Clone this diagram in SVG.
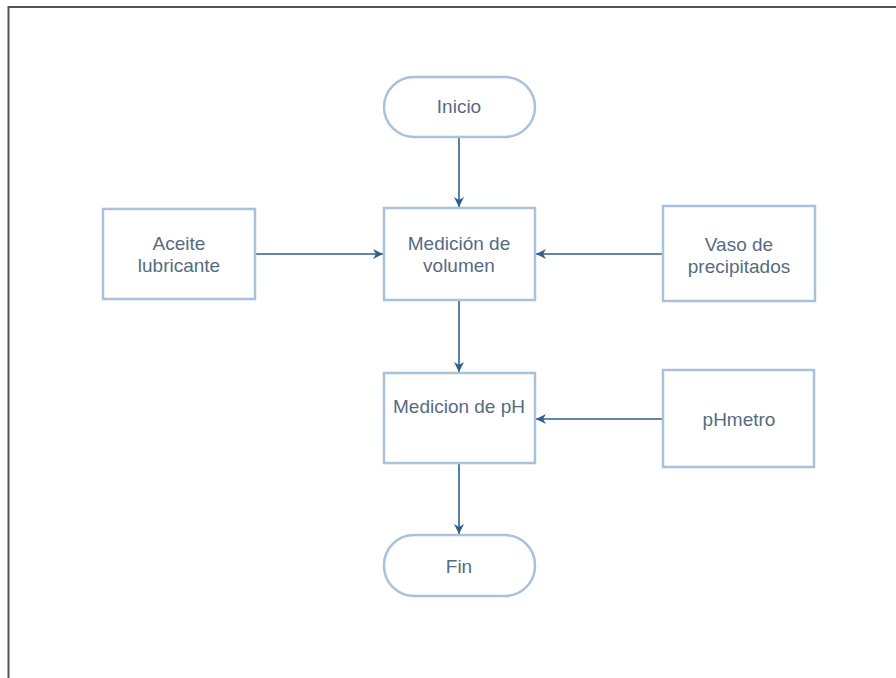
<svg xmlns="http://www.w3.org/2000/svg" width="896" height="678" viewBox="0 0 896 678">
<style>
.node{fill:#ffffff;stroke:#a9c1db;stroke-width:2.5}
.lbl{font-family:"Liberation Sans",Arial,sans-serif;font-size:19px;fill:#566b82;text-anchor:middle}
.edge{stroke:#2f5f8c;stroke-width:1.6;fill:none;marker-end:url(#arr)}
</style>
<defs>
<marker id="arr" viewBox="0 0 10 10" refX="10" refY="5" markerWidth="10" markerHeight="10" markerUnits="userSpaceOnUse" orient="auto">
<path d="M0,0 L10,5 L0,10 L3,5 z" fill="#2f5f8c"/>
</marker>
</defs>
<rect x="0" y="0" width="896" height="678" fill="#ffffff"/>
<path d="M8.5,678 V7 H896" fill="none" stroke="#555555" stroke-width="2"/>
<g id="connectors">
<line class="edge" x1="459" y1="137" x2="459" y2="207"/>
<line class="edge" x1="255" y1="254" x2="383" y2="254"/>
<line class="edge" x1="663" y1="254" x2="536" y2="254"/>
<line class="edge" x1="459" y1="300" x2="459" y2="372"/>
<line class="edge" x1="663" y1="419" x2="536" y2="419"/>
<line class="edge" x1="459" y1="463" x2="459" y2="534"/>
</g>
<g id="inicio">
<rect class="node" x="384" y="77" width="151" height="60" rx="30" ry="30"/>
<text class="lbl" x="459" y="113">Inicio</text>
</g>
<g id="medicion-volumen">
<rect class="node" x="384" y="208" width="151" height="92"/>
<text class="lbl" x="459" y="250">Medición de</text>
<text class="lbl" x="459" y="272">volumen</text>
</g>
<g id="aceite">
<rect class="node" x="103" y="209" width="152" height="90"/>
<text class="lbl" x="179" y="250">Aceite</text>
<text class="lbl" x="179" y="272">lubricante</text>
</g>
<g id="vaso">
<rect class="node" x="663" y="206" width="152" height="95"/>
<text class="lbl" x="739" y="251">Vaso de</text>
<text class="lbl" x="739" y="273">precipitados</text>
</g>
<g id="medicion-ph">
<rect class="node" x="384" y="373" width="151" height="90"/>
<text class="lbl" x="459" y="413">Medicion de pH</text>
</g>
<g id="phmetro">
<rect class="node" x="663" y="370" width="151" height="97"/>
<text class="lbl" x="739" y="426">pHmetro</text>
</g>
<g id="fin">
<rect class="node" x="384" y="535" width="151" height="61" rx="30" ry="30"/>
<text class="lbl" x="459" y="573">Fin</text>
</g>
</svg>
